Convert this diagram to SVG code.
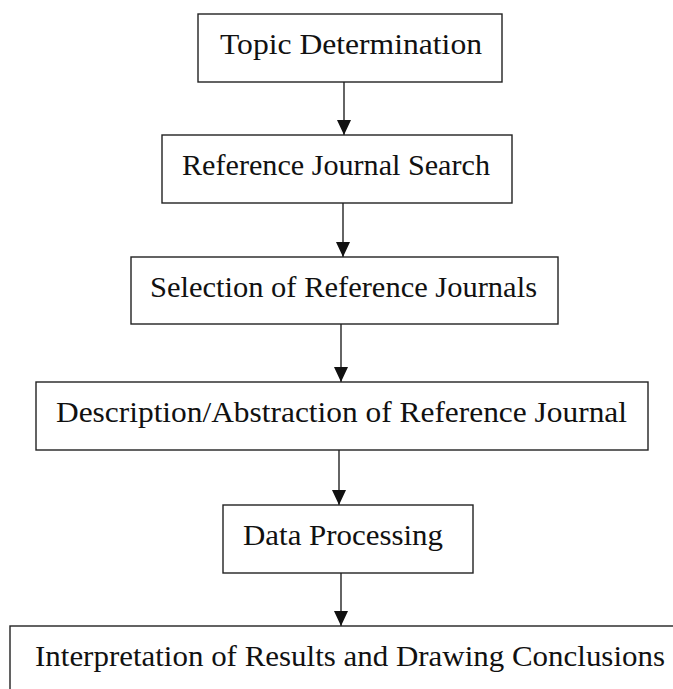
<svg xmlns="http://www.w3.org/2000/svg" width="673" height="689" viewBox="0 0 673 689">
<style>
.box{fill:#fff;stroke:#222;stroke-width:1.4}
.lbl{font-family:"Liberation Serif","DejaVu Serif",serif;font-size:30px;fill:#111}
.conn{stroke:#111;stroke-width:1.3;fill:none;marker-end:url(#ah)}
</style>
<defs>
<marker id="ah" markerUnits="userSpaceOnUse" markerWidth="16" markerHeight="16" viewBox="0 0 16 16" refX="15" refY="8" orient="auto">
<path d="M0,1 L15,8 L0,15 Z" fill="#111"/>
</marker>
</defs>
<rect width="673" height="689" fill="#fff"/>
<g id="connectors">
<line class="conn" x1="344" y1="82" x2="344" y2="135"/>
<line class="conn" x1="343" y1="203" x2="343" y2="257"/>
<line class="conn" x1="341" y1="324" x2="341" y2="382"/>
<line class="conn" x1="339" y1="450" x2="339" y2="505"/>
<line class="conn" x1="341" y1="573" x2="341" y2="626"/>
</g>
<g id="n1"><rect class="box" x="198" y="14" width="304" height="68"/><text class="lbl" x="220" y="54" textLength="262" lengthAdjust="spacingAndGlyphs">Topic Determination</text></g>
<g id="n2"><rect class="box" x="162" y="135" width="350" height="68"/><text class="lbl" x="182" y="175" textLength="308" lengthAdjust="spacingAndGlyphs">Reference Journal Search</text></g>
<g id="n3"><rect class="box" x="131" y="257" width="427" height="67"/><text class="lbl" x="150" y="297" textLength="387" lengthAdjust="spacingAndGlyphs">Selection of Reference Journals</text></g>
<g id="n4"><rect class="box" x="36" y="382" width="612" height="68"/><text class="lbl" x="56" y="422" textLength="571" lengthAdjust="spacingAndGlyphs">Description/Abstraction of Reference Journal</text></g>
<g id="n5"><rect class="box" x="223" y="505" width="250" height="68"/><text class="lbl" x="243" y="545" textLength="200" lengthAdjust="spacingAndGlyphs">Data Processing</text></g>
<g id="n6"><rect class="box" x="10" y="626" width="700" height="100"/><text class="lbl" x="35" y="666" textLength="630" lengthAdjust="spacingAndGlyphs">Interpretation of Results and Drawing Conclusions</text></g>
</svg>
